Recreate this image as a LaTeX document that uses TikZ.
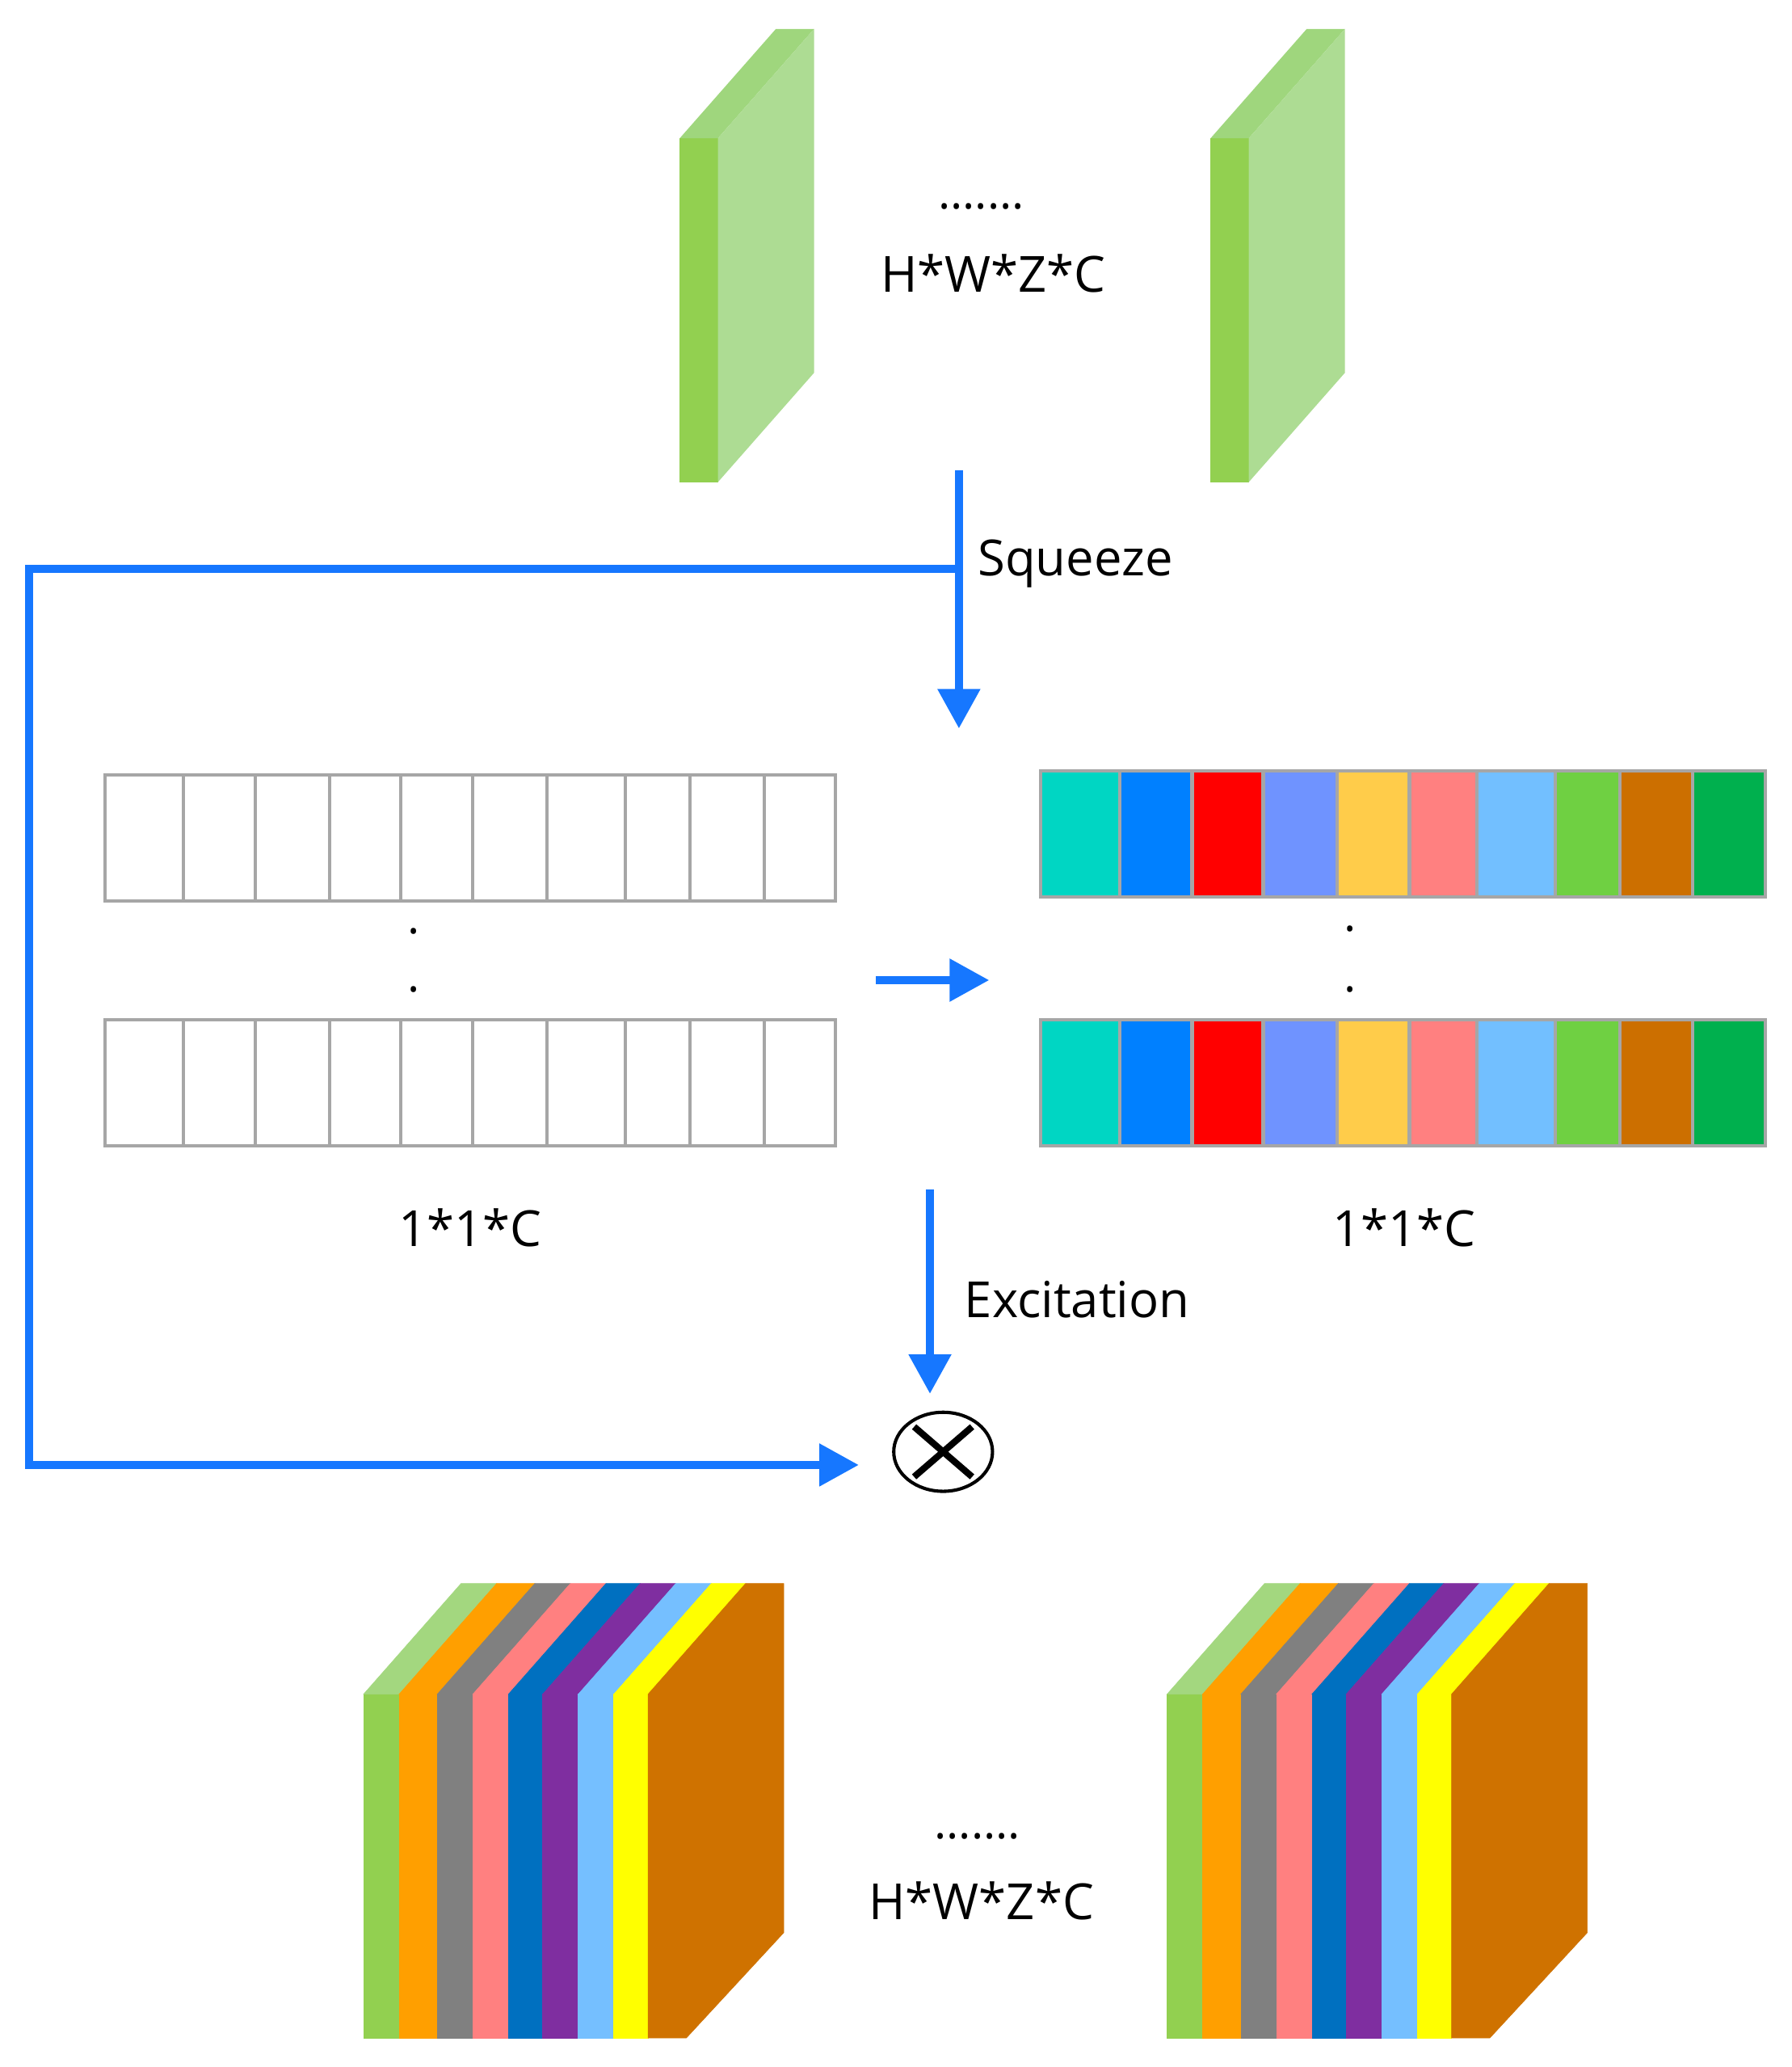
\documentclass[tikz,border=0pt]{standalone}
\usepackage{fontspec}
\setmainfont{Open Sans}
\usetikzlibrary{arrows.meta}
\usetikzlibrary{shapes.geometric}
\usetikzlibrary{calc}
\usepackage{xcolor}

% colours of the drawing
\definecolor{flowblue}{HTML}{1677FF}
\definecolor{cellgray}{HTML}{A6A6A6}
\definecolor{pfront}{HTML}{92D050}
\definecolor{ptop}{HTML}{9FD67D}
\definecolor{pside}{HTML}{ADDC93}
\definecolor{sgreen}{HTML}{92D050}
\definecolor{sgreentop}{HTML}{A3D77F}
\definecolor{sorange}{HTML}{FF9F00}
\definecolor{sgray}{HTML}{808080}
\definecolor{ssalmon}{HTML}{FF8080}
\definecolor{sblue}{HTML}{0070C0}
\definecolor{spurple}{HTML}{7F2EA0}
\definecolor{ssky}{HTML}{75BFFF}
\definecolor{syellow}{HTML}{FFFF00}
\definecolor{sbrown}{HTML}{CF7200}
\definecolor{wteal}{HTML}{00D6C3}
\definecolor{wblue}{HTML}{0080FF}
\definecolor{wred}{HTML}{FF0000}
\definecolor{wperi}{HTML}{6F93FF}
\definecolor{wgold}{HTML}{FFCC4A}
\definecolor{wsalmon}{HTML}{FF8080}
\definecolor{wsky}{HTML}{72BFFF}
\definecolor{wlime}{HTML}{6FD042}
\definecolor{wbrown}{HTML}{CC6F00}
\definecolor{wgreen}{HTML}{00B04E}

\begin{document}
\begin{tikzpicture}[x=0.02cm,y=-0.02cm,
  flow/.style={draw=flowblue,line width=0.125cm,miter limit=10,
    -{Triangle[length=0.6cm,width=0.62cm]}},
  cellbox/.style={draw=cellgray,line width=0.05cm},
  lbl/.style={inner sep=0pt,font=\fontsize{21.5}{26}\selectfont},
  dotlbl/.style={inner sep=0pt,font=\fontsize{20}{24}\selectfont}]
  \useasboundingbox (0,0) rectangle (1360,1569);

  % input feature maps (two green slabs)
  \foreach \px in {0,403}{
    \begin{scope}[shift={(\px,0)}]
      \fill[pfront] (516,105) rectangle (545,366);
      \fill[ptop] (516,105) -- (589,22) -- (618,22) -- (545,105) -- cycle;
      \fill[pside] (545,105) -- (618,22) -- (618,283) -- (545,366) -- cycle;
    \end{scope}
  }
  \node[dotlbl] (topdots) at (745,157) {.......};
  \node[lbl,anchor=base] (topdim) at (754,222) {H*W*Z*C};

  % squeeze arrow and skip connection
  \coordinate (sqtop) at (728,357);
  \coordinate (sqtip) at (728,553);
  \coordinate (sqsplit) at (728,432);
  \coordinate (skipcorner) at (22,432);
  \coordinate (skiptip) at (652,1112);
  \draw[flow] (sqtop) -- (sqtip);
  \draw[flow] (sqsplit) -- (skipcorner) |- (skiptip);
  \node[lbl,anchor=base west] (sqlbl) at (742,437) {Squeeze};

  % empty channel vectors
  \foreach \row in {588,774}{
    \foreach \xa/\xb in {80/139,139/194,194/250,250/304,304/359,359/415,
                         415/475,475/524,524/580,580/634}{
      \draw[cellbox] (\xa,\row) rectangle (\xb,\row+96);
    }
  }
  \node[dotlbl] (ldotA) at (314,707) {.};
  \node[dotlbl] (ldotB) at (314,751) {.};
  \node[lbl,anchor=base] (llbl) at (357,946) {1*1*C};

  % map arrow
  \coordinate (mapfrom) at (665,744);
  \coordinate (mapto) at (751,744);
  \draw[flow] (mapfrom) -- (mapto);

  % weighted channel vectors
  \foreach \row in {585,774}{
    \foreach \xa/\xb/\c in {790/850/wteal,850/905/wblue,905/959/wred,
                            959/1015/wperi,1015/1070/wgold,1070/1121/wsalmon,
                            1121/1181/wsky,1181/1230/wlime,1230/1285/wbrown,
                            1285/1340/wgreen}{
      \filldraw[cellbox,fill=\c] (\xa,\row) rectangle (\xb,\row+96);
    }
  }
  \node[dotlbl] (rdotA) at (1025,705) {.};
  \node[dotlbl] (rdotB) at (1025,751) {.};
  \node[lbl,anchor=base] (rlbl) at (1066,946) {1*1*C};

  % excitation arrow and product
  \coordinate (extop) at (706,903);
  \coordinate (extip) at (706,1058);
  \draw[flow] (extop) -- (extip);
  \node[lbl,anchor=base west] (exlbl) at (732,1000) {Excitation};
  \node[draw,ellipse,line width=0.05cm,minimum width=1.5cm,
        minimum height=1.2cm,inner sep=0pt] (mul) at (716,1102) {};
  \draw[line width=0.1cm] ($(mul.center)+(-22,-19)$) -- ($(mul.center)+(22,19)$);
  \draw[line width=0.1cm] ($(mul.center)+(-22,19)$) -- ($(mul.center)+(22,-19)$);

  % output feature maps (striped blocks)
  \foreach \bx in {0,610}{
    \begin{scope}[shift={(\bx,0)}]
      \foreach \xa/\xb/\c/\t in {276/303/sgreen/sgreentop,303/332/sorange/sorange,
                                 332/359/sgray/sgray,359/386/ssalmon/ssalmon,
                                 386/412/sblue/sblue,412/439/spurple/spurple,
                                 439/466/ssky/ssky,466/492/syellow/syellow}{
        \filldraw[\c,line width=0.2pt] (\xa,1286) rectangle (\xb,1547);
        \filldraw[\t,line width=0.2pt] (\xa,1286) -- (\xa+74,1202) -- (\xb+74,1202)
          -- (\xb,1286) -- cycle;
      }
      \filldraw[sbrown,line width=0.2pt] (492,1286) -- (566,1202) -- (595,1202)
        -- (595,1467) -- (521,1547) -- (492,1547) -- cycle;
    \end{scope}
  }
  \node[dotlbl] (botdots) at (742,1394) {.......};
  \node[lbl,anchor=base] (botdim) at (745,1457) {H*W*Z*C};
\end{tikzpicture}
\end{document}
